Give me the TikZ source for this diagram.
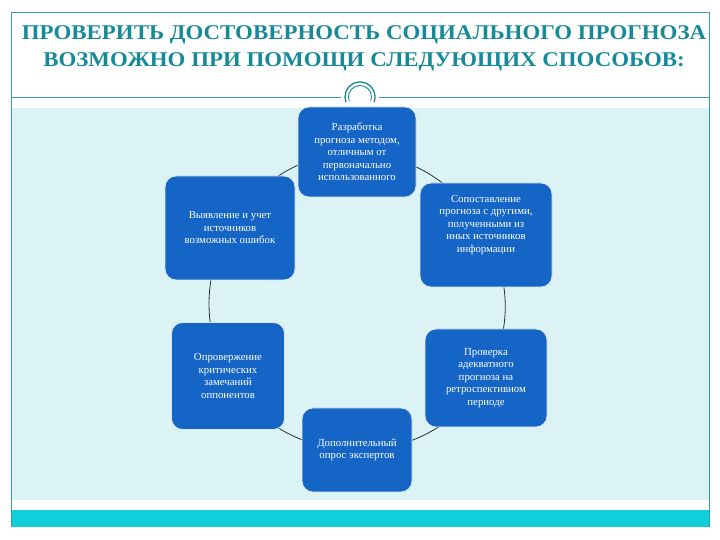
\documentclass[tikz,border=0pt]{standalone}
\usepackage{fontspec}
\setmainfont{Liberation Serif}
\definecolor{titlecol}{HTML}{178A9A}
\definecolor{framecol}{HTML}{3A9AA8}
\definecolor{lightbg}{HTML}{DCF3F6}
\definecolor{barcol}{HTML}{10CFDB}
\definecolor{boxcol}{HTML}{1565C6}
\definecolor{linkcol}{HTML}{25323C}
\tikzset{
  methodbox/.style={draw=white!85!boxcol, line width=0.8pt, fill=boxcol, rounded corners=11pt,
    text=white, align=center, font=\fontsize{10.8}{12.5}\selectfont, inner sep=2pt},
  link/.style={draw=linkcol, line width=0.8pt}
}
\begin{document}
\begin{tikzpicture}[x=1pt,y=1pt]
\useasboundingbox (0,0) rectangle (720,540);
\fill[white] (0,0) rectangle (720,540);
% light region and bottom bar
\fill[lightbg] (11,40) rectangle (709,432);
\fill[barcol] (11,13) rectangle (709,30);
% frame
\draw[framecol, line width=0.6pt] (11,13) -- (11,528) -- (709,528) -- (709,13);
\draw[framecol, line width=0.6pt] (11,443) -- (341,443);
\draw[framecol, line width=0.6pt] (379,443) -- (709,443);
% ornament
\draw[titlecol, line width=1.3pt] ([shift={(-20:15)}]360,443) arc (-20:200:15);
\draw[titlecol, line width=0.9pt] ([shift={(-20:11.5)}]360,443) arc (-20:200:11.5);
% title
\node[text=titlecol, font=\fontsize{21}{27}\selectfont\bfseries, align=center, xscale=1.09] (title) at (364,492)
  {ПРОВЕРИТЬ ДОСТОВЕРНОСТЬ СОЦИАЛЬНОГО ПРОГНОЗА\\ВОЗМОЖНО ПРИ ПОМОЩИ СЛЕДУЮЩИХ СПОСОБОВ:};
% box centres
\coordinate (ctop) at (357,388);
\coordinate (clu) at (230,312);
\coordinate (cru) at (486,305);
\coordinate (cll) at (228,164);
\coordinate (crl) at (486,162);
\coordinate (cbot) at (357,90);
% connectors along the cycle (boxes cover their ends)
\draw[link] (ctop) to[bend right=30, looseness=0.92] (clu);
\draw[link] (clu) to[bend right=30, looseness=0.92] (cll);
\draw[link] (cll) to[bend right=30, looseness=0.92] (cbot);
\draw[link] (cbot) to[bend right=30, looseness=0.92] (crl);
\draw[link] (crl) to[bend right=30, looseness=0.92] (cru);
\draw[link] (cru) to[bend right=30, looseness=0.92] (ctop);
% boxes
\node[methodbox, minimum width=118pt, minimum height=90pt] (top) at (ctop)
  {Разработка\\прогноза методом,\\отличным от\\первоначально\\использованного};
\node[methodbox, minimum width=130pt, minimum height=104pt] (lu) at (clu)
  {Выявление и учет\\источников\\возможных ошибок};
\node[methodbox, minimum width=132pt, minimum height=104pt] (ru) at (cru)
  {Сопоставление\\прогноза с другими,\\полученными из\\иных источников\\информации\\[10pt]};
\node[methodbox, minimum width=113pt, minimum height=107pt] (ll) at (cll)
  {Опровержение\\критических\\замечаний\\оппонентов};
\node[methodbox, minimum width=122pt, minimum height=98pt] (rl) at (crl)
  {Проверка\\адекватного\\прогноза на\\ретроспективном\\периоде};
\node[methodbox, minimum width=110pt, minimum height=84pt] (bot) at (cbot)
  {Дополнительный\\опрос экспертов};
\end{tikzpicture}
\end{document}
